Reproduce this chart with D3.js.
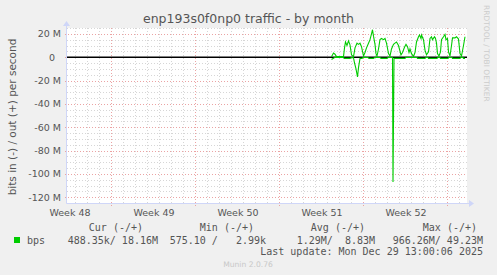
<!DOCTYPE html>
<html>
<head>
<meta charset="utf-8">
<script src="https://cdn.jsdelivr.net/npm/d3@7"></script>
<style>
	html, body { margin: 0; padding: 0; background: #f0f0f0; }
	svg { display: block; }
	text { font-family: 'DejaVu Sans', sans-serif; fill: #555; }
	.mono { font-family: 'DejaVu Sans Mono', monospace; white-space: pre; }
</style>
</head>
<body>
<div id="chart"></div>
<script>
// values, bits per second in millions
// hours are counted from 2025-12-15 00:00
var seriesStart = Date.UTC(2025, 11, 15);

var outHours = [105, 109, 112, 115, 129, 131, 133, 136, 139, 142, 145, 149, 152, 156, 159, 162, 165, 169, 172, 175,
	179, 182, 185, 187, 189, 192, 194, 196, 199, 202, 205, 209, 212, 215, 219, 222, 225, 229, 232, 235,
	239, 244, 247, 251, 254, 257, 260, 262, 265, 269, 272, 275, 279, 281, 284, 285, 289, 292, 295, 299,
	302, 305, 307, 311, 313, 315, 317, 320, 323, 325, 329, 332, 334, 337, 339, 342, 345, 347, 352, 355,
	359, 362, 365, 369, 372];
var outValues = [0.3, 3.5, 2.5, 0.5, 0.5, 8, 13, 10, 14, 10.5, 2, 0.5, 8, 12, 11, 12, 9, 1, 4, 8,
	12, 15, 20, 23.5, 18, 11, 3, 1, 7, 15, 16, 15, 16, 12, 3, 1, 7, 11, 12, 13,
	10, 2, 4, 8.5, 11, 9, 4, 7, 3, 0.7, 4, 13, 17.5, 19, 16, 19, 15, 6, 2, 4.5,
	16, 17.5, 15, 17.5, 16, 12, 3, 1, 4.5, 15, 17.5, 19.5, 15, 16, 4.5, 1, 10, 16.5, 16.5, 17.5,
	15.5, 3, 1, 10, 17.5];

var inHours = [105, 112, 128, 131, 142, 145, 149, 151, 154, 157, 159, 162, 166, 169, 178, 180, 189, 192, 202, 204,
	216, 219, 227, 228, 230, 236, 252, 254, 276, 277, 292, 294, 298, 299, 316, 318, 322, 323, 338, 340,
	346, 347, 362, 364, 368, 369, 372];
var inValues = [-2, -0.2, -0.3, -1, -1, -0.3, -0.5, -5, -10, -17, -9, -1, -1, -0.2, -0.3, -1, -1, -0.2, -0.3, -1,
	-1, -0.2, -0.3, -107, -1, -1, -1, -0.2, -0.3, -1, -1, -0.2, -0.3, -1, -1, -0.2, -0.3, -1, -1, -0.2,
	-0.3, -1, -1, -0.2, -0.3, -1, -1];

var yTicks = [20, 0, -20, -40, -60, -80, -100, -120];

var legendHeads = ['Cur (-/+)', 'Min (-/+)', 'Avg (-/+)', 'Max (-/+)'];
var legendValues = ['488.35k/ 18.16M', '575.10 /   2.99k', '1.29M/  8.83M', '966.26M/ 49.23M'];

initTrafficChart();

// munin style month graph
function initTrafficChart() {
	var width = 497;
	var height = 275;
	var plot = { left: 67, right: 467, top: 28, bottom: 203 };
	var green = '#00cc00';
	var axisColor = '#cfd6f8';

	var svg = d3.select('#chart')
		.append('svg')
		.attr('width', width)
		.attr('height', height);

	svg.append('rect')
		.attr('width', width)
		.attr('height', height)
		.attr('fill', '#f0f0f0');

	var xScale = d3.scaleUtc()
		.domain([new Date(Date.UTC(2025, 10, 27, 8)), new Date(Date.UTC(2025, 11, 30, 16))])
		.range([plot.left, plot.right]);

	var yScale = d3.scaleLinear()
		.domain([-125, 25])
		.range([plot.bottom, plot.top]);

	svg.append('rect')
		.attr('x', plot.left)
		.attr('y', plot.top)
		.attr('width', plot.right - plot.left)
		.attr('height', plot.bottom - plot.top)
		.attr('fill', '#fff');

	var grid = svg.append('g');

	// minor grid, every 5 M and every day
	var minorY = d3.range(-125, 26, 5).filter(function(v) {
		return v % 20 !== 0;
	});
	var minorX = xScale.ticks(d3.utcDay.every(1)).filter(function(d) {
		return d.getUTCDay() !== 1;
	});
	var weekStarts = xScale.ticks(d3.utcMonday.every(1));

	function crisp(v) {
		return Math.round(v) + 0.5;
	}

	grid.selectAll('.minor-y')
		.data(minorY)
		.enter()
		.append('line')
		.attr('x1', plot.left)
		.attr('x2', plot.right)
		.attr('y1', function(d) { return crisp(yScale(d)); })
		.attr('y2', function(d) { return crisp(yScale(d)); })
		.attr('stroke', '#d6d6d6')
		.attr('stroke-dasharray', '1,2');

	grid.selectAll('.minor-x')
		.data(minorX)
		.enter()
		.append('line')
		.attr('y1', plot.top)
		.attr('y2', plot.bottom + 2)
		.attr('x1', function(d) { return crisp(xScale(d)); })
		.attr('x2', function(d) { return crisp(xScale(d)); })
		.attr('stroke', '#d6d6d6')
		.attr('stroke-dasharray', '1,2');

	grid.selectAll('.major-y')
		.data(yTicks)
		.enter()
		.append('line')
		.attr('x1', plot.left - 2)
		.attr('x2', plot.right)
		.attr('y1', function(d) { return crisp(yScale(d)); })
		.attr('y2', function(d) { return crisp(yScale(d)); })
		.attr('stroke', '#eba3a3')
		.attr('stroke-dasharray', '1,2');

	grid.selectAll('.major-x')
		.data(weekStarts)
		.enter()
		.append('line')
		.attr('y1', plot.top)
		.attr('y2', plot.bottom + 3)
		.attr('x1', function(d) { return crisp(xScale(d)); })
		.attr('x2', function(d) { return crisp(xScale(d)); })
		.attr('stroke', '#eba3a3')
		.attr('stroke-dasharray', '1,2');

	// axes in the light blue munin colour
	var axes = svg.append('g');

	axes.append('line')
		.attr('x1', plot.left - 0.5)
		.attr('x2', plot.right + 4)
		.attr('y1', plot.bottom + 0.5)
		.attr('y2', plot.bottom + 0.5)
		.attr('stroke', axisColor);

	axes.append('line')
		.attr('x1', plot.left - 0.5)
		.attr('x2', plot.left - 0.5)
		.attr('y1', plot.bottom + 0.5)
		.attr('y2', plot.top - 4)
		.attr('stroke', axisColor);

	axes.append('path')
		.attr('d', 'M' + (plot.right + 2) + ',' + (plot.bottom - 3) + 'L' + (plot.right + 7) + ',' + (plot.bottom + 0.5) + 'L' + (plot.right + 2) + ',' + (plot.bottom + 4) + 'Z')
		.attr('fill', axisColor);

	axes.append('path')
		.attr('d', 'M' + (plot.left - 4) + ',' + (plot.top - 2) + 'L' + (plot.left - 0.5) + ',' + (plot.top - 7) + 'L' + (plot.left + 3) + ',' + (plot.top - 2) + 'Z')
		.attr('fill', axisColor);

	// y labels
	var yAxis = svg.append('g')
		.attr('transform', 'translate(' + (plot.left - 6) + ',0)')
		.call(d3.axisLeft(yScale)
			.tickValues(yTicks)
			.tickSize(0)
			.tickPadding(0)
			.tickFormat(function(d) {
				return d === 0 ? '0  ' : d + ' M';
			}));

	yAxis.select('.domain').remove();
	yAxis.selectAll('text')
		.attr('font-size', '9.5px')
		.attr('font-family', 'DejaVu Sans')
		.style('white-space', 'pre')
		.attr('fill', '#555');

	// week labels in the middle of each week
	var weekLabels = weekStarts.concat([d3.utcMonday.offset(weekStarts[0], -1)])
		.map(function(d) {
			return d3.utcHour.offset(d, 84);
		})
		.filter(function(d) {
			return xScale(d) >= plot.left && xScale(d) <= plot.right - 30;
		});

	svg.selectAll('.week')
		.data(weekLabels)
		.enter()
		.append('text')
		.attr('x', function(d) { return xScale(d) + 1; })
		.attr('y', 216)
		.attr('text-anchor', 'middle')
		.attr('font-size', '9.5px')
		.text(function(d) { return 'Week ' + d3.utcFormat('%V')(d); });

	// zero rule
	svg.append('line')
		.attr('x1', plot.left)
		.attr('x2', plot.right)
		.attr('y1', yScale(0))
		.attr('y2', yScale(0))
		.attr('stroke', '#000')
		.attr('stroke-width', 1.5);

	var line = d3.line()
		.x(function(d) { return xScale(new Date(seriesStart + d[0] * 3600000)); })
		.y(function(d) { return yScale(d[1]); });

	svg.append('path')
		.datum(d3.zip(inHours, inValues))
		.attr('d', line)
		.attr('fill', 'none')
		.attr('stroke', green)
		.attr('stroke-width', 1.1);

	svg.append('path')
		.datum(d3.zip(outHours, outValues))
		.attr('d', line)
		.attr('fill', 'none')
		.attr('stroke', green)
		.attr('stroke-width', 1.1);

	// titles
	svg.append('text')
		.attr('x', width / 2)
		.attr('y', 23)
		.attr('text-anchor', 'middle')
		.attr('font-size', '12.5px')
		.text('enp193s0f0np0 traffic - by month');

	svg.append('text')
		.attr('transform', 'translate(16,' + 117 + ') rotate(-90)')
		.attr('text-anchor', 'middle')
		.attr('font-size', '10.5px')
		.text('bits in (-) / out (+) per second');

	svg.append('text')
		.attr('transform', 'translate(484,5) rotate(90)')
		.attr('font-size', '7.5px')
		.style('fill', '#ccc')
		.text('RRDTOOL / TOBI OETIKER');

	// legend
	var headEnds = [143, 254, 365, 477];
	var valueEnds = [158, 266, 375, 483];

	svg.selectAll('.head')
		.data(legendHeads)
		.enter()
		.append('text')
		.attr('class', 'mono')
		.attr('x', function(d, i) { return headEnds[i]; })
		.attr('y', 231)
		.attr('text-anchor', 'end')
		.attr('font-size', '10px')
		.text(function(d) { return d; });

	svg.append('rect')
		.attr('x', 14)
		.attr('y', 237)
		.attr('width', 6)
		.attr('height', 6)
		.attr('fill', green);

	svg.append('text')
		.attr('class', 'mono')
		.attr('x', 27)
		.attr('y', 244)
		.attr('font-size', '10px')
		.text('bps');

	svg.selectAll('.val')
		.data(legendValues)
		.enter()
		.append('text')
		.attr('class', 'mono')
		.attr('x', function(d, i) { return valueEnds[i]; })
		.attr('y', 244)
		.attr('text-anchor', 'end')
		.attr('font-size', '10px')
		.text(function(d) { return d; });

	svg.append('text')
		.attr('class', 'mono')
		.attr('x', 483)
		.attr('y', 255)
		.attr('text-anchor', 'end')
		.attr('font-size', '10px')
		.text('Last update: Mon Dec 29 13:00:06 2025');

	svg.append('text')
		.attr('x', 248)
		.attr('y', 267)
		.attr('text-anchor', 'middle')
		.attr('font-size', '7.6px')
		.style('fill', '#c8c8c8')
		.text('Munin 2.0.76');
}
</script>
</body>
</html>
